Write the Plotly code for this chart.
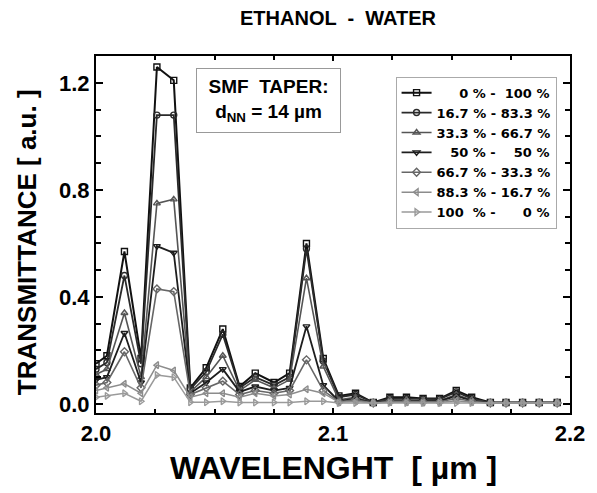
import plotly.graph_objects as go

# wavelength sample points (µm)
wavelength = [2.000, 2.0046, 2.012, 2.019, 2.0257, 2.0328, 2.0398, 2.0465, 2.0535, 2.0606,
              2.0672, 2.0751, 2.0817, 2.0888, 2.0959, 2.1025, 2.1095, 2.117, 2.124, 2.131,
              2.138, 2.145, 2.152, 2.1585, 2.1664, 2.173, 2.180, 2.187, 2.1946]

s_0_100 = [0.15, 0.18, 0.57, 0.17, 1.26, 1.21, 0.06, 0.135, 0.28, 0.065,
           0.115, 0.08, 0.115, 0.60, 0.17, 0.03, 0.04, 0.005, 0.025, 0.025,
           0.02, 0.02, 0.05, 0.025, 0.005, 0.005, 0.005, 0.005, 0.005]
s_167_833 = [0.13, 0.155, 0.48, 0.15, 1.08, 1.08, 0.055, 0.12, 0.26, 0.06,
             0.10, 0.07, 0.10, 0.58, 0.16, 0.025, 0.035, 0.005, 0.02, 0.02,
             0.018, 0.018, 0.045, 0.02, 0.005, 0.005, 0.005, 0.005, 0.005]
s_333_667 = [0.11, 0.13, 0.34, 0.10, 0.75, 0.765, 0.045, 0.10, 0.18, 0.05,
             0.09, 0.06, 0.09, 0.47, 0.14, 0.015, 0.025, 0.004, 0.015, 0.015,
             0.012, 0.012, 0.035, 0.015, 0.004, 0.004, 0.004, 0.004, 0.004]
s_50_50 = [0.09, 0.10, 0.265, 0.08, 0.59, 0.565, 0.04, 0.08, 0.13, 0.045,
           0.065, 0.05, 0.06, 0.29, 0.07, 0.01, 0.02, 0.004, 0.012, 0.012,
           0.01, 0.01, 0.03, 0.012, 0.004, 0.004, 0.004, 0.004, 0.004]
s_667_333 = [0.07, 0.08, 0.195, 0.06, 0.43, 0.42, 0.035, 0.06, 0.085, 0.035,
             0.05, 0.04, 0.05, 0.165, 0.05, 0.008, 0.015, 0.003, 0.01, 0.01,
             0.008, 0.008, 0.02, 0.01, 0.003, 0.003, 0.003, 0.003, 0.003]
s_883_167 = [0.05, 0.06, 0.075, 0.04, 0.145, 0.125, 0.025, 0.04, 0.04, 0.025,
             0.04, 0.03, 0.035, 0.055, 0.04, 0.006, 0.01, 0.003, 0.006, 0.006,
             0.005, 0.005, 0.012, 0.006, 0.003, 0.003, 0.003, 0.003, 0.003]
s_100_0 = [0.025, 0.03, 0.04, 0.01, 0.108, 0.10, 0.006, 0.006, 0.01, 0.005,
           0.005, 0.005, 0.005, 0.01, 0.01, 0.003, 0.003, 0.003, 0.003, 0.003,
           0.003, 0.003, 0.003, 0.003, 0.003, 0.003, 0.003, 0.003, 0.003]

x_ticks = [2.0, 2.1, 2.2]
x_minor = [2.025, 2.05, 2.075, 2.125, 2.15, 2.175]
y_ticks = [0.0, 0.4, 0.8, 1.2]
y_minor = [0.1, 0.2, 0.3, 0.5, 0.6, 0.7, 0.9, 1.0, 1.1]

NB = "\u00a0"
labels = [
    f"{NB*5}0 % - {NB}100 %",
    "16.7 % - 83.3 %",
    "33.3 % - 66.7 %",
    f"{NB*3}50 % - {NB*3}50 %",
    "66.7 % - 33.3 %",
    "88.3 % - 16.7 %",
    f"100{NB} % - {NB*5}0 %",
]
series = [s_0_100, s_167_833, s_333_667, s_50_50, s_667_333, s_883_167, s_100_0]
symbols = ["square-open", "circle-open", "triangle-up-open", "triangle-down-open",
           "diamond-open", "triangle-left-open", "triangle-right-open"]
colors = ["#111111", "#2a2a2a", "#555555", "#1e1e1e", "#666666", "#8c8c8c", "#9a9a9a"]
widths = [2.0, 1.8, 1.6, 1.8, 1.6, 1.5, 1.5]

FONT = "Liberation Sans, Arial, sans-serif"
XRANGE = [2.0, 2.2]
YRANGE = [-0.034, 1.301]

fig = go.Figure()
for lab, ys, sym, col, lw in zip(labels, series, symbols, colors, widths):
    fig.add_trace(go.Scatter(
        x=wavelength, y=ys, name=lab, mode="lines+markers",
        line=dict(color=col, width=lw),
        marker=dict(symbol=sym, size=6, color=col, line=dict(color=col, width=1.4)),
    ))
# empty carrier trace for the minor-tick overlay axes
fig.add_trace(go.Scatter(x=[], y=[], xaxis="x2", yaxis="y2", showlegend=False,
                         hoverinfo="skip", mode="markers"))

fig.update_layout(
    width=597, height=493,
    margin=dict(l=96, r=19, t=56, b=80),
    paper_bgcolor="white", plot_bgcolor="white",
    font=dict(family=FONT, color="black"),
    title=dict(text="<b>ETHANOL  -  WATER</b>", x=338 / 597, xref="container", y=1 - 18 / 493,
               yref="container", xanchor="center", yanchor="middle",
               font=dict(size=20, family=FONT)),
    legend=dict(x=0.632, y=0.942, xanchor="left", yanchor="top",
                bgcolor="white", bordercolor="#aaaaaa", borderwidth=1,
                font=dict(size=13, weight="bold", family="DejaVu Sans, sans-serif")),
    showlegend=True,
    xaxis2=dict(overlaying="x", range=XRANGE, tickvals=x_minor, showticklabels=False,
                ticks="inside", ticklen=4, tickwidth=1.5, tickcolor="black",
                showline=False, mirror="ticks", showgrid=False, zeroline=False),
    yaxis2=dict(overlaying="y", range=YRANGE, tickvals=y_minor, showticklabels=False,
                ticks="inside", ticklen=5, tickwidth=1.5, tickcolor="black",
                showline=False, mirror="ticks", showgrid=False, zeroline=False),
)

fig.layout.xaxis.update(
    range=XRANGE, tickvals=x_ticks, ticktext=[f"{v:.1f}" for v in x_ticks],
    ticks="inside", ticklen=5, tickwidth=1.5, tickcolor="black",
    showline=True, linecolor="black", linewidth=2, mirror="ticks",
    showgrid=False, zeroline=False,
    tickfont=dict(size=22, weight="bold", family=FONT),
)
fig.layout.yaxis.update(
    range=YRANGE, tickvals=y_ticks, ticktext=[f"{v:.1f}" for v in y_ticks],
    ticks="inside", ticklen=7, tickwidth=1.5, tickcolor="black",
    showline=True, linecolor="black", linewidth=2, mirror="ticks",
    showgrid=False, zeroline=False,
    tickfont=dict(size=22, weight="bold", family=FONT),
)

fig.add_annotation(
    xref="paper", yref="paper", x=0.5, y=(413 - 468) / 357,
    text="<b>WAVELENGHT  [ µm ]</b>", showarrow=False, xanchor="center", yanchor="middle",
    font=dict(size=32, family=FONT),
)
fig.add_annotation(
    xref="paper", yref="paper", x=(26 - 96) / 482, y=(413 - 242) / 357,
    text="<b>TRANSMITTANCE [ a.u. ]</b>", showarrow=False, textangle=-90,
    xanchor="center", yanchor="middle",
    font=dict(size=26, family=FONT),
)
fig.add_annotation(
    xref="paper", yref="paper", x=(271.5 - 96) / 482, y=(413 - 100) / 357,
    text="<b>SMF  TAPER:<br>d<sub>NN</sub> = 14 µm</b>", showarrow=False,
    xanchor="center", yanchor="middle", align="center",
    bgcolor="white", bordercolor="#999999", borderwidth=1, borderpad=4,
    width=135, height=55,
    font=dict(size=19, family=FONT),
)

fig.write_html("out.html")
